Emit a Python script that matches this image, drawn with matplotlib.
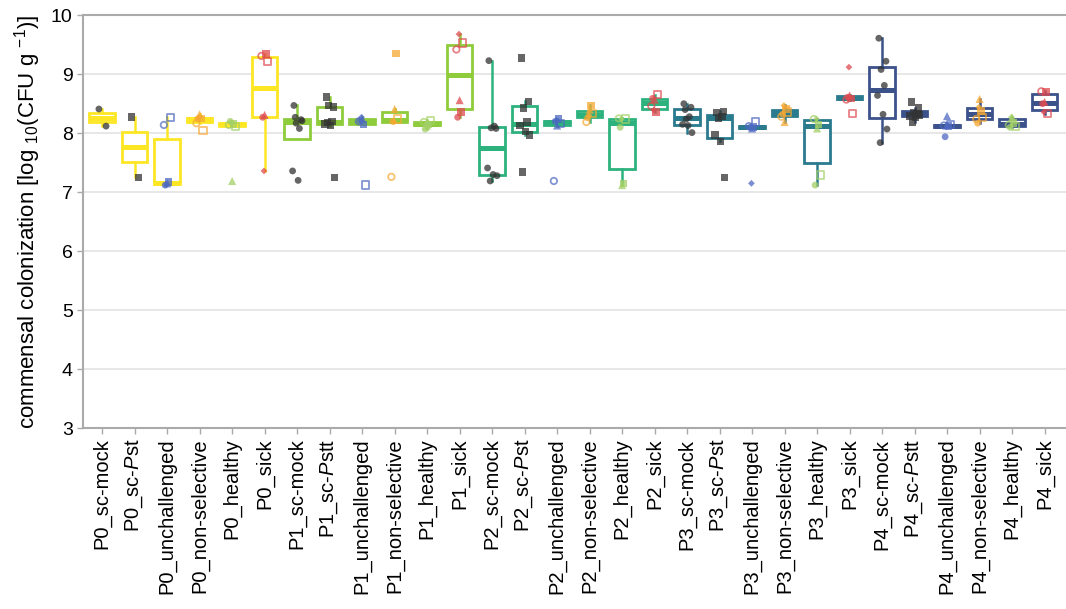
import numpy as np
import matplotlib.pyplot as plt

plt.rcParams['font.family'] = ['Liberation Sans', 'DejaVu Sans']
plt.rcParams['mathtext.fontset'] = 'custom'
plt.rcParams['mathtext.rm'] = 'Liberation Sans'
plt.rcParams['mathtext.it'] = 'Liberation Sans:italic'

tick_labels = [
    'P0_sc-mock', 'P0_sc-$\\mathit{P}$st', 'P0_unchallenged', 'P0_non-selective', 'P0_healthy', 'P0_sick',
    'P1_sc-mock', 'P1_sc-$\\mathit{P}$stt', 'P1_unchallenged', 'P1_non-selective', 'P1_healthy', 'P1_sick',
    'P2_sc-mock', 'P2_sc-$\\mathit{P}$st', 'P2_unchallenged', 'P2_non-selective', 'P2_healthy', 'P2_sick',
    'P3_sc-mock', 'P3_sc-$\\mathit{P}$st', 'P3_unchallenged', 'P3_non-selective', 'P3_healthy', 'P3_sick',
    'P4_sc-mock', 'P4_sc-$\\mathit{P}$stt', 'P4_unchallenged', 'P4_non-selective', 'P4_healthy', 'P4_sick',
]

# one sublist per passage P0..P4
sc_mock = [
    [8.41, 8.12],
    [8.47, 8.23, 8.17, 8.08, 7.36, 7.20, 8.21, 8.27],
    [9.23, 8.08, 8.09, 8.12, 7.41, 7.30, 7.28, 7.19],
    [8.50, 8.44, 8.24, 8.28, 8.15, 8.13, 8.01, 8.40],
    [9.61, 9.22, 9.08, 8.81, 8.64, 8.32, 8.07, 7.84],
]
sc_pst = [
    [8.27, 7.25],
    [8.61, 8.44, 8.47, 8.20, 8.16, 8.13, 7.25, 8.18],
    [9.27, 8.54, 8.43, 8.19, 8.13, 8.03, 7.97, 7.34],
    [8.35, 8.37, 8.25, 8.28, 7.97, 7.86, 7.25],
    [8.53, 8.43, 8.35, 8.33, 8.29, 8.27, 8.31, 8.19],
]
# replicate order: filled circle, filled square, open circle, open square, triangle, diamond
unchallenged = [
    [7.12, 7.17, 8.14, 8.27, 7.15, 7.13],
    [8.21, 8.15, 8.20, 7.12, 8.25, 8.27],
    [8.20, 8.24, 7.19, 8.17, 8.13, 8.22],
    [8.10, 8.11, 8.12, 8.19, 8.08, 7.15],
    [7.94, 8.12, 8.13, 8.15, 8.29, 8.11],
]
non_selective = [
    [8.24, 8.25, 8.17, 8.05, 8.32, 8.27],
    [8.20, 9.35, 7.26, 8.24, 8.41, 8.19],
    [8.26, 8.47, 8.19, 8.33, 8.40, 8.30],
    [8.32, 8.41, 8.28, 8.36, 8.19, 8.47],
    [8.17, 8.38, 8.24, 8.26, 8.58, 8.44],
]
healthy = [
    [8.20, 8.16, 8.14, 8.12, 7.19, 8.18],
    [8.07, 8.15, 8.19, 8.22, 8.13, 8.16],
    [8.10, 7.15, 8.25, 8.24, 7.12, 8.24],
    [7.12, 8.15, 8.24, 7.29, 8.08, 8.24],
    [8.10, 8.17, 8.14, 8.12, 8.27, 8.27],
]
sick = [
    [8.27, 9.34, 9.31, 9.21, 8.31, 7.36],
    [8.27, 8.36, 9.42, 9.53, 8.56, 9.68],
    [8.59, 8.36, 8.46, 8.65, 8.57, 8.39],
    [8.61, 8.59, 8.57, 8.33, 8.64, 9.12],
    [8.50, 8.70, 8.71, 8.33, 8.53, 8.36],
]

box_colors = ['#FDE725', '#8FCC3C', '#2DB27D', '#2A7B8E', '#3B528B']
treatments = [sc_mock, sc_pst, unchallenged, non_selective, healthy, sick]
point_colors = ['#333333', '#333333', '#4D69C2', '#F6A833', '#A3D066', '#DE4B50']

rep_markers = [('o', True), ('s', True), ('o', False), ('s', False), ('^', True), ('D', True)]
jitter = [-0.10, 0.12, -0.03, 0.07, -0.14, 0.03, 0.15, -0.06]
rep_jitter = [-0.06, 0.04, -0.10, 0.10, 0.00, -0.02]
sizes = {'o': 24, 's': 30, '^': 34, 'D': 12}

fig, ax = plt.subplots(figsize=(10.66, 6.09), dpi=100)
fig.subplots_adjust(left=0.078, right=1.0, top=0.975, bottom=0.297)

data, colors = [], []
for p in range(5):
    for t in range(6):
        data.append(treatments[t][p])
        colors.append(box_colors[p])
positions = np.arange(len(data))

bp = ax.boxplot(data, positions=positions, widths=0.78, patch_artist=True,
                showfliers=False, showcaps=False, whis=1.5, zorder=2)
for i, c in enumerate(colors):
    bp['boxes'][i].set(facecolor='white', edgecolor=c, linewidth=2.0)
    bp['medians'][i].set(color=c, linewidth=3.6, solid_capstyle='butt')
    for w in bp['whiskers'][2 * i:2 * i + 2]:
        w.set(color=c, linewidth=1.8)

for i, vals in enumerate(data):
    t = i % 6
    col = point_colors[t]
    for k, v in enumerate(vals):
        if t < 2:
            m, filled = ('o' if t == 0 else 's'), True
            dx = jitter[k % len(jitter)]
        else:
            m, filled = rep_markers[k]
            dx = rep_jitter[k]
        if filled:
            ax.scatter(i + dx, v, marker=m, s=sizes[m], color=col, alpha=0.75,
                       edgecolors='none', zorder=3)
        else:
            ax.scatter(i + dx, v, marker=m, s=sizes[m] * 0.9, facecolors='none',
                       edgecolors=col, linewidths=1.3, alpha=0.7, zorder=3)

ax.set_xlim(-0.585, 29.66)
ax.set_ylim(3, 10)
ax.set_yticks(range(3, 11))
ax.set_xticks(positions)
ax.set_xticklabels(tick_labels, rotation=90, fontsize=14.5)
ax.tick_params(axis='y', labelsize=14, length=4, color='#AAAAAA', width=1)
ax.tick_params(axis='x', length=4, color='#AAAAAA', width=1)
ax.yaxis.grid(True, color='#E5E5E5', linewidth=1.3, zorder=0)
ax.set_axisbelow(True)
for s in ['left', 'top', 'bottom']:
    ax.spines[s].set_color('#AAAAAA')
    ax.spines[s].set_linewidth(1.5)
ax.spines['right'].set_visible(False)
ax.set_ylabel('commensal colonization [log $_{10}$(CFU g $^{-1}$)]', fontsize=16, labelpad=6)

fig.savefig('out.png', dpi=100)
